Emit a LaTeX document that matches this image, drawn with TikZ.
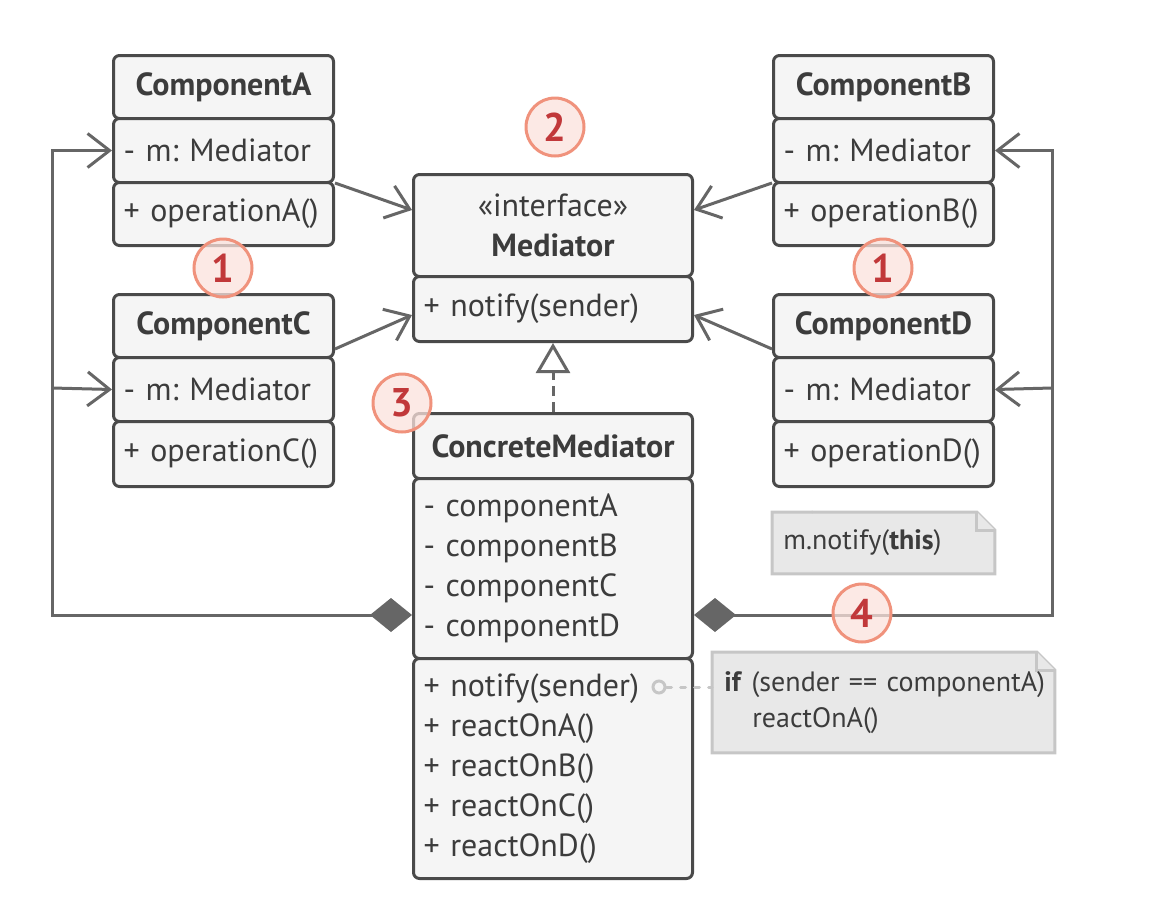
\documentclass[tikz,border=0pt]{standalone}
\usepackage{fontspec}
\setmainfont{PT Sans}
\frenchspacing
\usetikzlibrary{arrows.meta,calc,backgrounds}
\definecolor{boxline}{HTML}{4A4A4A}
\definecolor{boxfill}{HTML}{F5F5F5}
\definecolor{textgray}{HTML}{3C3C3C}
\definecolor{conn}{HTML}{666666}
\definecolor{notefill}{HTML}{E8E8E8}
\definecolor{noteline}{HTML}{C6C6C6}
\definecolor{numline}{HTML}{F0927C}
\definecolor{numfill}{HTML}{FBE2DC}
\definecolor{numtext}{HTML}{C1383A}
\tikzset{
  cell/.style={draw=boxline, fill=boxfill, line width=1.5pt, rounded corners=3pt,
    anchor=north west, inner xsep=5pt, inner ysep=0pt, text=textgray,
    font=\fontsize{16}{20}\selectfont},
  title/.style={cell, font=\fontsize{16}{20}\selectfont\bfseries, align=center},
  rows/.style={cell, align=left},
  small/.style={text width=100pt, minimum height=#1},
  wide/.style={text width=129.5pt, minimum height=#1},
  dep/.style={draw=conn, line width=1.5pt, -{Straight Barb[length=11pt,width=17pt]}},
  agg/.style={draw=conn, line width=1.5pt,
    {Diamond[length=21pt,width=17pt,fill=conn]}-{Straight Barb[length=11pt,width=17pt]}},
  real/.style={draw=conn, line width=1.5pt, dash pattern=on 5pt off 3pt,
    -{Triangle[open,length=15pt,width=17pt,fill=white]}},
  notetext/.style={anchor=north west, inner ysep=0pt, align=left, text=textgray,
    font=\fontsize{14}{18}\selectfont},
  notebox/.style={draw=noteline, fill=notefill, line width=1.5pt},
  notelink/.style={draw=noteline, line width=1.5pt, line cap=round},
  num/.style={circle, draw=numline, fill=numfill, fill opacity=0.75, text opacity=1,
    line width=1.5pt, minimum size=29pt, inner sep=0pt, text=numtext,
    font=\fontsize{20}{20}\selectfont\bfseries}
}

\begin{document}
\begin{tikzpicture}[x=0.5pt, y=-0.5pt]
  %%%%% START %%%%%
  \useasboundingbox (0,0) rectangle (1174,900);

  % components
  \node[title, small=31.5pt] (ca-h) at (112,54) {ComponentA};
  \node[rows, small=32pt] (ca-a) at (112,117) {- m: Mediator};
  \node[rows, small=31.5pt] (ca-m) at (112,181) {+ operationA()};

  \node[title, small=31.5pt] (cc-h) at (112,293) {ComponentC};
  \node[rows, small=32pt] (cc-a) at (112,356) {- m: Mediator};
  \node[rows, small=32.5pt] (cc-m) at (112,420) {+ operationC()};

  \node[title, small=31.5pt] (cb-h) at (772,54) {ComponentB};
  \node[rows, small=32pt] (cb-a) at (772,117) {- m: Mediator};
  \node[rows, small=31.5pt] (cb-m) at (772,181) {+ operationB()};

  \node[title, small=31.5pt] (cd-h) at (772,293) {ComponentD};
  \node[rows, small=32pt] (cd-a) at (772,356) {- m: Mediator};
  \node[rows, small=32.5pt] (cd-m) at (772,420) {+ operationD()};

  % mediator
  \node[title, wide=51pt] (med-h) at (412,173) {{\mdseries «interface»}\\Mediator};
  \node[rows, wide=32.5pt] (med-m) at (412,275) {+ notify(sender)};

  \node[title, wide=32.5pt] (cm-h) at (412,412) {ConcreteMediator};
  \node[rows, wide=90pt] (cm-a) at (412,477)
    {- componentA\\- componentB\\- componentC\\- componentD};
  \node[rows, wide=110pt] (cm-m) at (412,657)
    {+ notify(sender)\\+ reactOnA()\\+ reactOnB()\\+ reactOnC()\\+ reactOnD()};

  % notes
  \node[notetext, text width=100pt, minimum height=30.5pt, inner xsep=5.5pt]
    (n1) at (772,512) {m.notify(\textbf{this})};
  \node[notetext, text width=159pt, minimum height=50pt, inner xsep=6pt]
    (n2) at (712,652) {\mbox{\textbf{if} (sender == componentA)}\\\hspace*{14pt}reactOnA()};
  \begin{scope}[on background layer]
    \draw[notebox] (n1.south west) -- (n1.north west) -- ($(n1.north east)+(-18,0)$)
      -- ($(n1.north east)+(0,18)$) -- (n1.south east) -- cycle;
    \draw[notebox] ($(n1.north east)+(-18,0)$) |- ($(n1.north east)+(0,18)$);
    \draw[notebox] (n2.south west) -- (n2.north west) -- ($(n2.north east)+(-18,0)$)
      -- ($(n2.north east)+(0,18)$) -- (n2.south east) -- cycle;
    \draw[notebox] ($(n2.north east)+(-18,0)$) |- ($(n2.north east)+(0,18)$);
  \end{scope}
  \draw[notelink, dash pattern=on 4pt off 10pt, dash phase=8.5pt]
    ($(n1.north west)+(40,0)$) -- ($(n1.north west)+(40,0)$ |- cd-m.south);
  \node[circle, draw=noteline, line width=1.5pt, minimum size=6pt, inner sep=0pt]
    (dot) at ($(cm-m.north east)+(-35,30)$) {};
  \draw[notelink, dash pattern=on 2.5pt off 4.5pt] (dot) -- (dot -| n2.west);

  % dependencies
  \draw[dep] ($(ca-m.north east)+(0,2)$) -- ($(med-h.north west)+(0,37)$);
  \draw[dep] ($(cc-h.south east)+(0,-10)$) -- ($(med-m.north west)+(0,40)$);
  \draw[dep] ($(cb-m.north west)+(0,2)$) -- ($(med-h.north east)+(0,37)$);
  \draw[dep] ($(cd-h.south west)+(0,-10)$) -- ($(med-m.north east)+(0,40)$);
  \draw[real] (cm-h.north) -- (med-m.south);

  % aggregation
  \coordinate (jl) at (52,388);
  \coordinate (jr) at (1052,388);
  \draw[agg] ($(cm-a.south west)+(0,-45)$) -| (jl) |- (ca-a.west);
  \draw[dep] (jl) -- (cc-a.west);
  \draw[agg] ($(cm-a.south east)+(0,-45)$) -| (jr) |- (cb-a.east);
  \draw[dep] (jr) -- (cd-a.east);

  % steps
  \node[num] (s2) at (555,127) {2};
  \node[num] (s1a) at (223,268) {1};
  \node[num] (s1b) at (883,268) {1};
  \node[num] (s3) at (402,403) {3};
  \node[num] (s4) at (862,613) {4};
  %%%%% END %%%%%
\end{tikzpicture}
\end{document}
